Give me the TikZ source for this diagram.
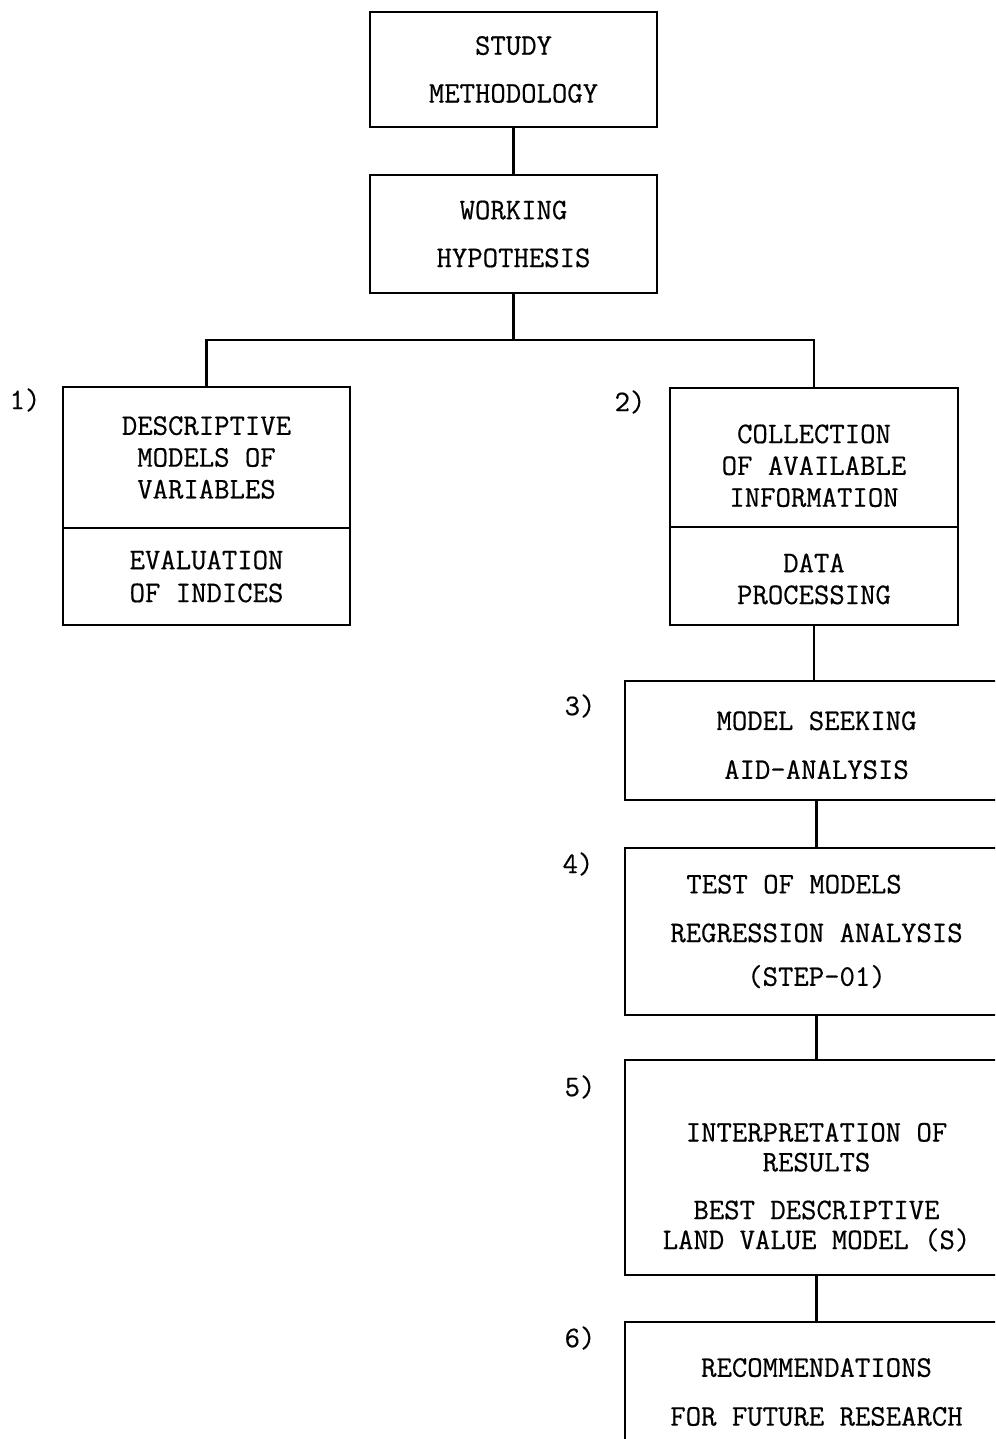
\documentclass[tikz,border=0pt]{standalone}
\usepackage{fontspec}
\newfontfamily\typer{Latin Modern Mono}[FakeBold=0.5]
\usetikzlibrary{positioning}
\begin{document}
\begin{tikzpicture}[x=0.02cm,y=-0.02cm,inner sep=0pt,outer sep=0pt,line width=1.4pt,
stepblock/.style={draw,rectangle,align=center,minimum width=5.74cm},
wideblock/.style={draw,rectangle,align=center,minimum width=7.66cm},
lines/.style={font=\fontsize{17}{#1}\selectfont\typer},
steplabel/.style={font=\fontsize{17}{20}\selectfont\typer}]

%%% Page frame
\useasboundingbox (0,0) rectangle (995,1439);
\clip (0,0) rectangle (995,1439);

%%% Blocks for the top line %%%%%
\draw (513.5,69.5) node[stepblock,lines=27.2pt,minimum height=2.30cm] (study) {STUDY\\METHODOLOGY};
\draw (513.5,234) node[stepblock,lines=27.2pt,minimum height=2.36cm] (work) {WORKING\\HYPOTHESIS};

	%%% Left branch (1)
	\draw (206.5,457.5) node[stepblock,lines=18.1pt,minimum height=2.82cm] (desc) {DESCRIPTIVE\\MODELS OF\\VARIABLES};
	\draw (desc.south) node[stepblock,lines=18.7pt,minimum height=1.94cm,anchor=north] (eval) {EVALUATION\\OF INDICES};

	%%% Right branch (2)
	\draw (814,457.5) node[stepblock,minimum width=5.76cm,lines=18.1pt,minimum height=2.78cm] (coll) {\rule{0pt}{20pt}COLLECTION\\OF AVAILABLE\\INFORMATION};
	\draw (coll.south) node[stepblock,minimum width=5.76cm,lines=18.1pt,minimum height=1.96cm,anchor=north] (data) {\rule{0pt}{14pt}DATA\\PROCESSING};
%%%%%%%%%%%%%%%%%%%%%%%%%

%%% Right column, steps 3 to 6
\draw (816.5,740.5) node[wideblock,lines=27.8pt,minimum height=2.38cm] (seek) {\rule{0pt}{16pt}MODEL SEEKING\\AID-ANALYSIS};
\draw (816.5,931.5) node[wideblock,lines=24.9pt,minimum height=3.34cm] (test) {TEST OF MODELS\hspace*{0.9cm}\\[2.8pt]REGRESSION ANALYSIS\\(STEP-01)};
\draw (816.5,1167.5) node[wideblock,lines=17pt,minimum height=4.30cm] (interp) {\rule{0pt}{33pt}INTERPRETATION OF\\RESULTS\\[10.2pt]BEST DESCRIPTIVE\\LAND VALUE MODEL (S)};
\draw (816.5,1392) node[wideblock,lines=27.8pt,minimum height=2.80cm] (recom) {RECOMMENDATIONS\\FOR FUTURE RESEARCH};

%%% Step numbers
\draw (25,400) node[steplabel] (n1) {1)};
\draw (630,402) node[steplabel] (n2) {2)};
\draw (580,706) node[steplabel] (n3) {3)};
\draw (578,864) node[steplabel] (n4) {4)};
\draw (580,1087) node[steplabel] (n5) {5)};
\draw (580,1338) node[steplabel] (n6) {6)};

%%% Connections
\draw (study) -- (work);
	%%% Include a point for the split (split)
	\coordinate (split) at (513.5,340);
	\draw (work.south) -- (split);
	\draw (split) -| (desc.north);
	\draw (split) -| (coll.north);
\draw (data.south) -- (data.south |- seek.north);
\draw (seek) -- (test);
\draw (test) -- (interp);
\draw (interp) -- (recom);

\end{tikzpicture}
\end{document}
